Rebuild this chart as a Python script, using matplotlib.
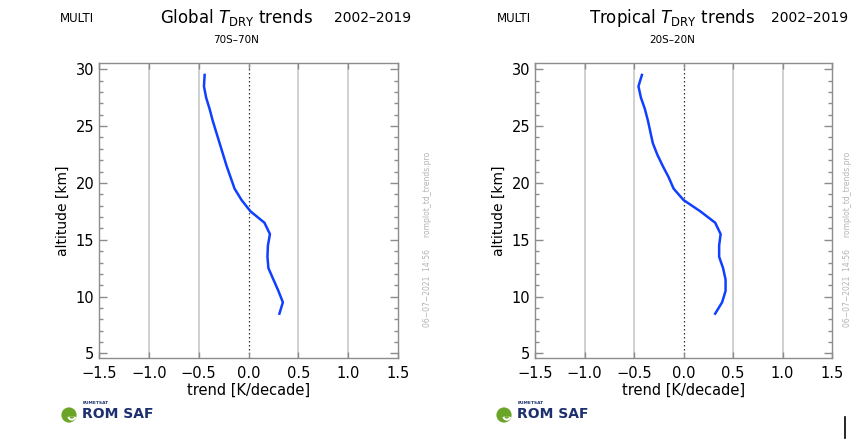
import matplotlib
matplotlib.use("Agg")
import matplotlib.pyplot as plt
from matplotlib.ticker import MultipleLocator
from matplotlib.patches import Circle, Wedge
import numpy as np

# ---- data ----
altitude = [8.5, 9.5, 10.5, 11.5, 12.5, 13.5, 14.5, 15.5, 16.5, 17.5, 18.5,
            19.5, 20.5, 21.5, 22.5, 23.5, 24.5, 25.5, 26.5, 27.5, 28.5, 29.5]
global_trend = [0.31, 0.345, 0.30, 0.25, 0.20, 0.19, 0.195, 0.215, 0.16, 0.02, -0.07,
                -0.14, -0.18, -0.22, -0.255, -0.29, -0.325, -0.36, -0.39, -0.425, -0.447, -0.44]
tropical_trend = [0.32, 0.39, 0.425, 0.425, 0.40, 0.36, 0.36, 0.375, 0.32, 0.17, 0.0,
                  -0.10, -0.15, -0.21, -0.265, -0.31, -0.335, -0.36, -0.39, -0.43, -0.455, -0.42]
xticks = [-1.5, -1.0, -0.5, 0.0, 0.5, 1.0, 1.5]
yticks = [5, 10, 15, 20, 25, 30]

W, H = 856, 442
fig = plt.figure(figsize=(W / 100, H / 100), dpi=100)
plt.rcParams['font.family'] = ['DejaVu Sans']

def fx(px):
    return px / W

def fy(py):
    return 1 - py / H

frame = '#8c8c8c'
grid_c = '#c8c8c8'
line_c = '#1040ff'

panels = [
    dict(x0=99, x1=398, data=global_trend, title=r"Global $T_{\mathrm{DRY}}$ trends",
         region="70S\u201370N", multi_x=60, title_cx=236, years_cx=373, side_x=427, logo_x=62),
    dict(x0=535, x1=832, data=tropical_trend, title=r"Tropical $T_{\mathrm{DRY}}$ trends",
         region="20S\u201320N", multi_x=497, title_cx=672, years_cx=810, side_x=848, logo_x=497),
]

for p in panels:
    ax = fig.add_axes([fx(p['x0']), fy(358), fx(p['x1'] - p['x0']), (358 - 63) / H])
    ax.set_xlim(-1.5, 1.5)
    ax.set_ylim(4.6, 30.55)
    for xv in [-1.0, -0.5, 0.5, 1.0]:
        ax.axvline(xv, color=grid_c, lw=1.2, zorder=1)
    ax.axvline(0.0, color='#333333', lw=0.9, ls=(0, (1.2, 2)), zorder=1)
    ax.plot(p['data'], altitude, color=line_c, lw=1.8, zorder=3)
    for s in ax.spines.values():
        s.set_color(frame)
        s.set_linewidth(1.0)
    ax.set_xticks(xticks)
    ax.set_xticklabels([f"{v:.1f}".replace('-', '\u2212') for v in xticks])
    ax.set_yticks(yticks)
    ax.yaxis.set_minor_locator(MultipleLocator(1))
    ax.tick_params(axis='both', which='both', direction='in', colors=frame,
                   labelcolor='black', labelsize=10.5, top=True, right=True)
    ax.tick_params(axis='y', which='major', length=6, width=1)
    ax.tick_params(axis='y', which='minor', length=3, width=1)
    ax.tick_params(axis='x', which='major', length=4, width=1, pad=6)
    ax.set_xlabel("trend [K/decade]", fontsize=10.5, labelpad=1)
    ax.set_ylabel("altitude [km]", fontsize=10, labelpad=4)

    # titles
    fig.text(fx(p['multi_x']), fy(18), "MULTI", fontsize=8.5, ha='left', va='center')
    fig.text(fx(p['title_cx']), fy(18), p['title'], fontsize=12, ha='center', va='center')
    fig.text(fx(p['years_cx']), fy(18), "2002\u20132019", fontsize=10, ha='center', va='center')
    fig.text(fx(p['title_cx']), fy(40), p['region'], fontsize=7.5, ha='center', va='center')

    # side stamp
    fig.text(fx(p['side_x']), fy(239), "06\u221207\u22122021  14:56     romplot_td_trends.pro",
             rotation=90, fontsize=5.5, color='#b4b4b4', ha='center', va='center')

    # logo icon (own small axes with equal aspect)
    lx = p['logo_x']
    lax = fig.add_axes([fx(lx - 1), fy(423), 16 / W, 16 / H])
    lax.set_xlim(-1, 1)
    lax.set_ylim(-1, 1)
    lax.set_aspect('equal')
    lax.axis('off')
    lax.add_patch(Circle((0, 0), 0.95, facecolor='#6aa527', edgecolor='none'))
    lax.add_patch(Wedge((0.35, -0.15), 0.55, 190, 350, facecolor='white', edgecolor='none'))
    lax.add_patch(Wedge((0.35, -0.15), 0.3, 190, 350, facecolor='#6aa527', edgecolor='none'))
    fig.text(fx(lx + 21), fy(403), "EUMETSAT", fontsize=3.2, color='#1c2f6e',
             fontweight='bold', ha='left', va='center')
    fig.text(fx(lx + 20), fy(414), "ROM SAF", fontsize=10, color='#1c2f6e',
             fontweight='bold', ha='left', va='center')

# small artefact line at lower right
fig.add_artist(plt.Line2D([fx(845), fx(845)], [fy(417), fy(438)], color='black', lw=1.2,
                          transform=fig.transFigure))

fig.savefig("out.png", dpi=100)
